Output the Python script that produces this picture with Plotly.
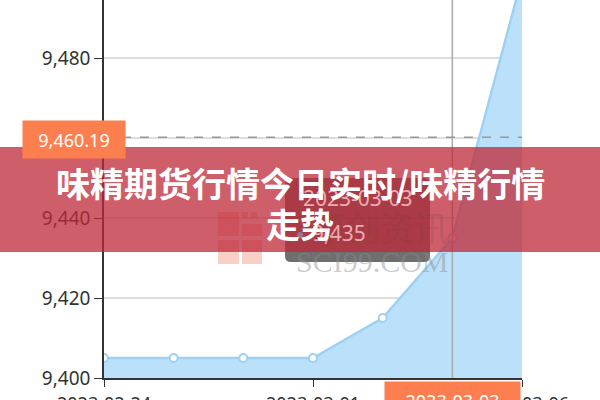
import plotly.graph_objects as go

# chart data
dates = ['2023-02-24', '2023-02-27', '2023-02-28', '2023-03-01',
         '2023-03-02', '2023-03-03', '2023-03-06']
prices = [9405, 9405, 9405, 9405, 9415, 9435, 9500]
tick_dates = ['2023-02-24', '2023-03-01', '2023-03-06']
mark_value = 9460.19
hover_date = '2023-03-03'
hover_price = 9435
title_lines = ['味精期货行情今日实时/味精行情', '走势']

W, H = 600, 400
L, R, T, B = 104, 78, 0, 22
PW, PH = W - L - R, H - T - B


def px(x):
    return (x - L) / PW


def py(y):
    return (H - B - y) / PH


def note(text, x, y, size, color, family='Noto Sans', **kw):
    d = dict(text=text, xref='paper', yref='paper', x=px(x), y=py(y),
             xanchor='center', yanchor='middle', showarrow=False,
             font=dict(family=family, size=size, color=color))
    d.update(kw)
    return d


fig = go.Figure()
fig.add_trace(go.Scatter(
    x=dates, y=prices, mode='lines+markers', fill='tozeroy',
    fillcolor='#bbe1fa',
    line=dict(color='#9cd1f5', width=2.5),
    marker=dict(size=8, color='white', line=dict(color='#9cd1f5', width=2)),
    hoverinfo='skip', showlegend=False,
))

shapes = [
    # crosshair and mark line
    dict(type='line', xref='x', yref='paper', x0=hover_date, x1=hover_date,
         y0=0, y1=1, line=dict(color='#aaaaaa', width=1.5), layer='above'),
    dict(type='line', xref='paper', yref='y', x0=0, x1=1,
         y0=mark_value, y1=mark_value,
         line=dict(color='#999999', width=1.5, dash='dash'), layer='above'),
]

# watermark squares
wm = [(218, 212, 239, 236), (242, 224, 262, 236), (218, 240, 239, 264),
      (242, 240, 262, 264), (242, 212, 248, 218), (251, 212, 257, 218)]
for x0, y0, x1, y1 in wm:
    shapes.append(dict(type='rect', xref='paper', yref='paper',
                       x0=px(x0), x1=px(x1), y0=py(y1), y1=py(y0),
                       fillcolor='rgba(238,120,90,0.35)', line_width=0,
                       layer='above'))

# tooltip box (rounded)
bx0, bx1, by0, by1, r = px(285), px(430), py(262), py(178), 6
rx, ry = r / PW, r / PH
shapes.append(dict(
    type='path', xref='paper', yref='paper',
    path=(f'M {bx0+rx},{by0} L {bx1-rx},{by0} Q {bx1},{by0} {bx1},{by0+ry} '
          f'L {bx1},{by1-ry} Q {bx1},{by1} {bx1-rx},{by1} L {bx0+rx},{by1} '
          f'Q {bx0},{by1} {bx0},{by1-ry} L {bx0},{by0+ry} Q {bx0},{by0} {bx0+rx},{by0} Z'),
    fillcolor='rgba(50,50,50,0.7)', line_width=0, layer='above'))

# banner
shapes.append(dict(type='rect', xref='paper', yref='paper',
                   x0=px(0), x1=px(W), y0=py(252), y1=py(147),
                   fillcolor='rgba(190,40,55,0.75)', line_width=0,
                   layer='above'))

annotations = [
    note('SCI99.COM', 372, 261, 30, 'rgba(140,140,140,0.45)', 'Liberation Serif'),
    note('卓创资讯', 380, 226, 34, 'rgba(120,60,60,0.2)', 'Noto Sans CJK SC'),
    note(hover_date, 358, 198, 21, 'rgb(236,170,178)'),
    note('●', 300, 233, 14, 'rgb(150,120,150)'),
    note(f'{hover_price:,}', 310, 233, 21, 'rgb(236,170,178)', xanchor='left'),
    # axis pointer labels
    note(f'{mark_value:,.2f}', 74, 139.5, 18, 'white',
         bgcolor='#fd7f4f', width=100, height=35),
    note(hover_date, 452, 401, 18, 'white',
         bgcolor='#fd7f4f', width=133, height=36),
]
for i, line in enumerate(title_lines):
    annotations.append(note(f'<b>{line}</b>', 300, 182 + 41 * i, 34, 'white',
                            'Noto Sans CJK SC'))

fig.update_layout(
    width=W, height=H, margin=dict(l=L, r=R, t=T, b=B, autoexpand=False),
    paper_bgcolor='white', plot_bgcolor='white',
    shapes=shapes, annotations=annotations,
    xaxis=dict(type='category', range=[0, len(dates) - 1],
               tickvals=tick_dates, ticktext=tick_dates, automargin=False,
               showgrid=False, showline=True, linecolor='#333333', linewidth=1.5,
               ticks='outside', ticklen=7, tickcolor='#333333',
               ticklabelstandoff=2,
               tickfont=dict(family='Noto Sans', size=18, color='#333333'),
               zeroline=False, fixedrange=True),
    yaxis=dict(range=[9400, 9494.5], dtick=20, tickformat=',d', automargin=False,
               showgrid=True, gridcolor='#dddddd', gridwidth=1.5,
               showline=True, linecolor='#333333', linewidth=1.5,
               ticks='outside', ticklen=8, tickcolor='#333333',
               tickfont=dict(family='Noto Sans', size=19, color='#333333'),
               zeroline=False, fixedrange=True),
)

fig.write_html('out.html', config={'displayModeBar': False}, post_script=(
    "document.body.style.margin='0';"
    "document.body.style.overflow='hidden';"))
